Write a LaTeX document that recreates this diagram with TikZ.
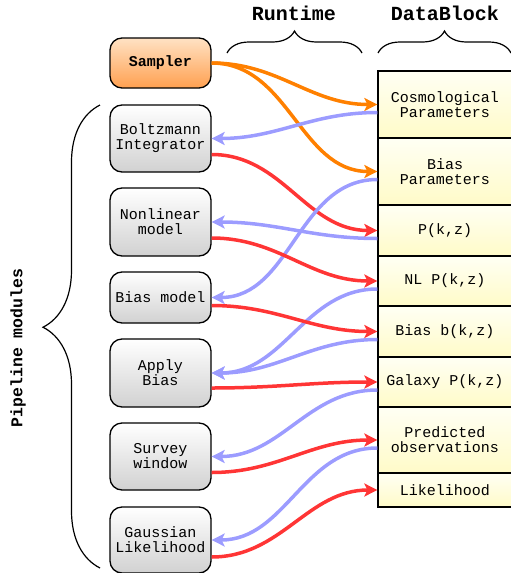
\documentclass[tikz,border=0pt]{standalone}
\usepackage{fontspec}
\setmonofont{Liberation Mono}
\usetikzlibrary{arrows.meta,decorations.pathreplacing}
\definecolor{floworange}{HTML}{FF8000}
\definecolor{flowred}{HTML}{FF3535}
\definecolor{flowblue}{HTML}{9C9CFF}
\definecolor{samptop}{HTML}{FFE2C4}
\definecolor{sampbot}{HTML}{FFA050}
\definecolor{celltop}{HTML}{FFFFF4}
\definecolor{cellbot}{HTML}{FFFBC8}

\begin{document}
\begin{tikzpicture}[x=1pt,y=-1pt,
  module/.style={shape=rectangle,rounded corners=12pt,draw=black,line width=1.3pt,minimum width=101pt,
    top color=white,bottom color=black!18,align=center,inner sep=0pt,
    font=\ttfamily\fontsize{15}{15}\selectfont},
  cell/.style={shape=rectangle,draw=black,line width=1.3pt,minimum width=134pt,
    top color=celltop,bottom color=cellbot,align=center,inner sep=0pt,
    font=\ttfamily\fontsize{15}{15}\selectfont},
  heading/.style={font=\ttfamily\bfseries\fontsize{20}{22}\selectfont},
  curly/.style={decorate,decoration={brace,amplitude=#1},line width=1.2pt},
  flow/.style={line width=3.5pt,-{Stealth[length=13pt,width=13pt,inset=3pt]}},
  orngflow/.style={flow,draw=floworange},
  redflow/.style={flow,draw=flowred},
  bluflow/.style={flow,draw=flowblue}]
\useasboundingbox (0,0) rectangle (511,573);

\node[heading] (rt) at (294,13) {Runtime};
\node[heading] (db) at (445,13) {DataBlock};
\node[font=\ttfamily\bfseries\fontsize{16.5}{18}\selectfont,rotate=90] (pm) at (18,348) {Pipeline modules};

\draw[curly=22pt] (227,53) -- (362,53);
\draw[curly=22pt] (378,53) -- (511,53);
\draw[curly=57pt,decoration={aspect=0.52}] (100,568) -- (100,105);

\node[module,minimum height=50pt,top color=samptop,bottom color=sampbot,font=\ttfamily\bfseries\fontsize{15}{15}\selectfont] (smp) at (160.5,63) {Sampler};
\node[module,minimum height=67pt] (boltz) at (160.5,138.5) {Boltzmann\\Integrator};
\node[module,minimum height=68pt] (nonlin) at (160.5,222) {Nonlinear\\model};
\node[module,minimum height=51pt] (biasm) at (160.5,297.5) {Bias model};
\node[module,minimum height=68pt] (apply) at (160.5,373) {Apply\\Bias};
\node[module,minimum height=67pt] (survey) at (160.5,456.5) {Survey\\window};
\node[module,minimum height=66pt] (gauss) at (160.5,540) {Gaussian\\Likelihood};

\node[cell,minimum height=67pt] (cosmo) at (445,104.5) {Cosmological\\Parameters};
\node[cell,minimum height=67pt] (biasp) at (445,171.5) {Bias\\Parameters};
\node[cell,minimum height=51pt] (pk) at (445,230.5) {P(k,z)};
\node[cell,minimum height=50pt] (nlpk) at (445,281) {NL P(k,z)};
\node[cell,minimum height=51pt] (biasb) at (445,331.5) {Bias b(k,z)};
\node[cell,minimum height=50pt] (galpk) at (445,382) {Galaxy P(k,z)};
\node[cell,minimum height=66pt] (pred) at (445,440) {Predicted\\observations};
\node[cell,minimum height=34pt] (like) at (445,490) {Likelihood};

\draw[orngflow] (smp.east) to[out=0,in=180] (cosmo.west);
\draw[orngflow] (smp.east) to[out=0,in=180] (biasp.west);

\draw[bluflow] ([yshift=-8pt]cosmo.west) to[out=180,in=0] (boltz.east);
\draw[redflow] ([yshift=-16pt]boltz.east) to[out=0,in=180] (pk.west);
\draw[bluflow] ([yshift=-8pt]biasp.west) to[out=180,in=0] (biasm.east);
\draw[bluflow] ([yshift=-8pt]pk.west) to[out=180,in=0] (nonlin.east);
\draw[redflow] ([yshift=-16pt]nonlin.east) to[out=0,in=180] (nlpk.west);
\draw[bluflow] ([yshift=-8pt]nlpk.west) to[out=180,in=0] (apply.east);
\draw[redflow] ([yshift=-8pt]biasm.east) to[out=0,in=180] (biasb.west);
\draw[bluflow] ([yshift=-8pt]biasb.west) to[out=180,in=0] (apply.east);
\draw[redflow] ([yshift=-15pt]apply.east) to[out=0,in=180] (galpk.west);
\draw[bluflow] ([yshift=-8pt]galpk.west) to[out=180,in=0] (survey.east);
\draw[redflow] ([yshift=-16pt]survey.east) to[out=0,in=180] (pred.west);
\draw[bluflow] ([yshift=-8pt]pred.west) to[out=180,in=0] (gauss.east);
\draw[redflow] ([yshift=-17pt]gauss.east) to[out=0,in=180] (like.west);
\end{tikzpicture}
\end{document}
